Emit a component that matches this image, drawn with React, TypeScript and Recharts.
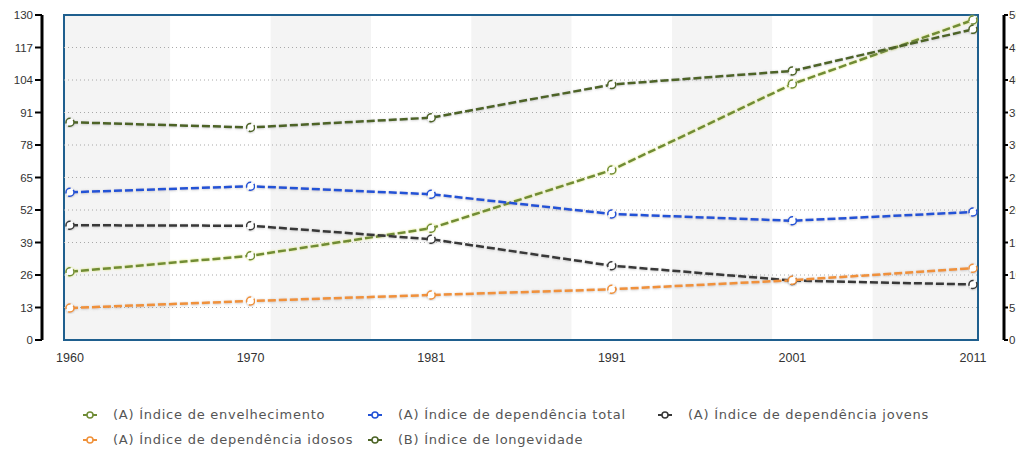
import React from 'react';
import {
  ComposedChart,
  Line,
  XAxis,
  YAxis,
  ReferenceArea,
  ReferenceLine,
  Legend,
} from 'recharts';

// Census years (categories)
const years = ['1960', '1970', '1981', '1991', '2001', '2011'];

// (A) series, left axis 0–130
const envelhecimento = [27.3, 33.7, 44.7, 68.0, 102.4, 128.0];
const dependenciaTotal = [59.1, 61.5, 58.3, 50.4, 47.7, 51.2];
const dependenciaJovens = [45.9, 45.7, 40.3, 29.7, 23.8, 22.2];
const dependenciaIdosos = [12.8, 15.6, 18.0, 20.3, 23.9, 28.7];

// (B) series, right axis 0–50
const longevidade = [33.5, 32.7, 34.2, 39.3, 41.4, 47.8];

// Axis ticks
const leftTicks = [0, 13, 26, 39, 52, 65, 78, 91, 104, 117, 130];
const rightTicks = [0, 5, 10, 15, 20, 25, 30, 35, 40, 45, 50];

// Series names, in legend order
const seriesNames = [
  '(A) Índice de envelhecimento',
  '(A) Índice de dependência total',
  '(A) Índice de dependência jovens',
  '(A) Índice de dependência idosos',
  '(B) Índice de longevidade',
];

const data = years.map((year, i) => ({
  idx: i,
  year,
  envelhecimento: envelhecimento[i],
  dependenciaTotal: dependenciaTotal[i],
  dependenciaJovens: dependenciaJovens[i],
  dependenciaIdosos: dependenciaIdosos[i],
  longevidade: longevidade[i],
}));

// x runs over category index; the frame sits slightly outside the first/last year
const X_DOMAIN: [number, number] = [-0.155, 5.1717];
const FRAME_L = -0.0332;
const FRAME_R = 5.0277;
const BAND_COUNT = 9;
const bandStep = (years.length - 1) / BAND_COUNT;
const bands = Array.from({ length: BAND_COUNT }, (_, k) => ({
  x1: k === 0 ? FRAME_L : k * bandStep,
  x2: k === BAND_COUNT - 1 ? FRAME_R : (k + 1) * bandStep,
  shaded: k % 2 === 0,
}));

const Y_FONT = { fontFamily: '"Liberation Sans", Arial, sans-serif', fontSize: 11.5, fill: '#333' };
const X_FONT = { fontFamily: '"Liberation Sans", Arial, sans-serif', fontSize: 12.5, fill: '#333' };

const COLORS = {
  envelhecimento: '#6f8c36',
  dependenciaTotal: '#2352d6',
  dependenciaJovens: '#383838',
  dependenciaIdosos: '#f0913a',
  longevidade: '#4d6426',
};

const LegendContent = (props: any) => {
  const payload = [...(props.payload || [])].sort(
    (a: any, b: any) => seriesNames.indexOf(a.value) - seriesNames.indexOf(b.value)
  );
  return (
    <div
      style={{
        display: 'grid',
        gridTemplateColumns: '285px 290px auto',
        fontFamily: '"DejaVu Sans", Verdana, sans-serif',
        fontSize: 13,
        letterSpacing: 0.75,
        color: '#555',
      }}
    >
      {payload.map((item: any) => (
        <div key={item.value} style={{ display: 'flex', alignItems: 'center', height: 25 }}>
          <svg width={14} height={10} style={{ flex: 'none' }}>
            <line x1={0} y1={5} x2={14} y2={5} stroke={item.color} strokeWidth={2} />
            <circle cx={7} cy={5} r={3} fill="#fff" stroke={item.color} strokeWidth={1.5} />
          </svg>
          <span style={{ marginLeft: 16, whiteSpace: 'nowrap' }}>{item.value}</span>
        </div>
      ))}
    </div>
  );
};

const dot = (color: string) => ({ r: 4, fill: '#fff', stroke: color, strokeWidth: 1.5 });

export default function App() {
  return (
    <div style={{ width: 1016, height: 442, overflow: 'hidden' }}>
      <ComposedChart
        width={1016}
        height={442}
        data={data}
        margin={{ top: 7, right: 0, bottom: 30, left: 0 }}
      >
        <defs>
          <filter id="softShadow" x="-5%" y="-20%" width="110%" height="140%">
            <feDropShadow dx="0" dy="0.5" stdDeviation="1" floodColor="#777" floodOpacity="0.45" />
          </filter>
          <filter id="yellowGlow" x="-5%" y="-20%" width="110%" height="140%">
            <feDropShadow dx="0" dy="0" stdDeviation="1" floodColor="#d6e06a" floodOpacity="0.9" />
          </filter>
        </defs>

        <XAxis
          dataKey="idx"
          type="number"
          domain={X_DOMAIN}
          ticks={[0, 1, 2, 3, 4, 5]}
          tickFormatter={(v: number) => years[v]}
          allowDataOverflow
          axisLine={false}
          tickLine={false}
          tickSize={8}
          tickMargin={5}
          height={30}
          tick={X_FONT}
          interval={0}
        />
        <YAxis
          yAxisId="left"
          orientation="left"
          domain={[0, 130]}
          ticks={leftTicks}
          width={34}
          interval={0}
          axisLine={{ stroke: '#000', strokeWidth: 3 }}
          tickLine={{ stroke: '#000', strokeWidth: 2 }}
          tickSize={7}
          tickMargin={2}
          tick={Y_FONT}
        />
        <YAxis
          yAxisId="right"
          orientation="right"
          domain={[0, 50]}
          ticks={rightTicks}
          width={20}
          interval={0}
          axisLine={{ stroke: '#000', strokeWidth: 3 }}
          tickLine={{ stroke: '#000', strokeWidth: 2 }}
          tickSize={4}
          tickMargin={1}
          tick={{ ...Y_FONT, textAnchor: 'start' }}
        />

        {bands.map((b, k) => (
          <ReferenceArea
            key={`band-${k}`}
            yAxisId="left"
            x1={b.x1}
            x2={b.x2}
            y1={0}
            y2={130}
            fill={b.shaded ? '#f4f4f4' : '#ffffff'}
            fillOpacity={1}
            stroke="none"
          />
        ))}

        {leftTicks.slice(1, -1).map((v) => (
          <ReferenceLine
            key={`grid-${v}`}
            yAxisId="left"
            segment={[
              { x: FRAME_L, y: v },
              { x: FRAME_R, y: v },
            ]}
            stroke="#a8a8a8"
            strokeWidth={1}
            strokeDasharray="1 3"
          />
        ))}

        <ReferenceArea
          yAxisId="left"
          x1={FRAME_L}
          x2={FRAME_R}
          y1={0}
          y2={130}
          fill="none"
          stroke="#1f5f8e"
          strokeWidth={2}
        />

        <Legend
          verticalAlign="bottom"
          content={<LegendContent />}
          wrapperStyle={{ left: 75, top: 394, bottom: 'auto', width: 900, height: 50 }}
        />

        <Line
          yAxisId="left"
          dataKey="envelhecimento"
          name={seriesNames[0]}
          stroke={COLORS.envelhecimento}
          strokeWidth={2.5}
          strokeDasharray="8 3"
          dot={dot(COLORS.envelhecimento)}
          activeDot={false}
          filter="url(#yellowGlow)"
          isAnimationActive={false}
        />
        <Line
          yAxisId="left"
          dataKey="dependenciaTotal"
          name={seriesNames[1]}
          stroke={COLORS.dependenciaTotal}
          strokeWidth={2.5}
          strokeDasharray="8 3"
          dot={dot(COLORS.dependenciaTotal)}
          activeDot={false}
          filter="url(#softShadow)"
          isAnimationActive={false}
        />
        <Line
          yAxisId="left"
          dataKey="dependenciaJovens"
          name={seriesNames[2]}
          stroke={COLORS.dependenciaJovens}
          strokeWidth={2.5}
          strokeDasharray="8 3"
          dot={dot(COLORS.dependenciaJovens)}
          activeDot={false}
          filter="url(#softShadow)"
          isAnimationActive={false}
        />
        <Line
          yAxisId="left"
          dataKey="dependenciaIdosos"
          name={seriesNames[3]}
          stroke={COLORS.dependenciaIdosos}
          strokeWidth={2.5}
          strokeDasharray="8 3"
          dot={dot(COLORS.dependenciaIdosos)}
          activeDot={false}
          filter="url(#softShadow)"
          isAnimationActive={false}
        />
        <Line
          yAxisId="right"
          dataKey="longevidade"
          name={seriesNames[4]}
          stroke={COLORS.longevidade}
          strokeWidth={2.5}
          strokeDasharray="8 3"
          dot={dot(COLORS.longevidade)}
          activeDot={false}
          filter="url(#softShadow)"
          isAnimationActive={false}
        />
      </ComposedChart>
    </div>
  );
}
